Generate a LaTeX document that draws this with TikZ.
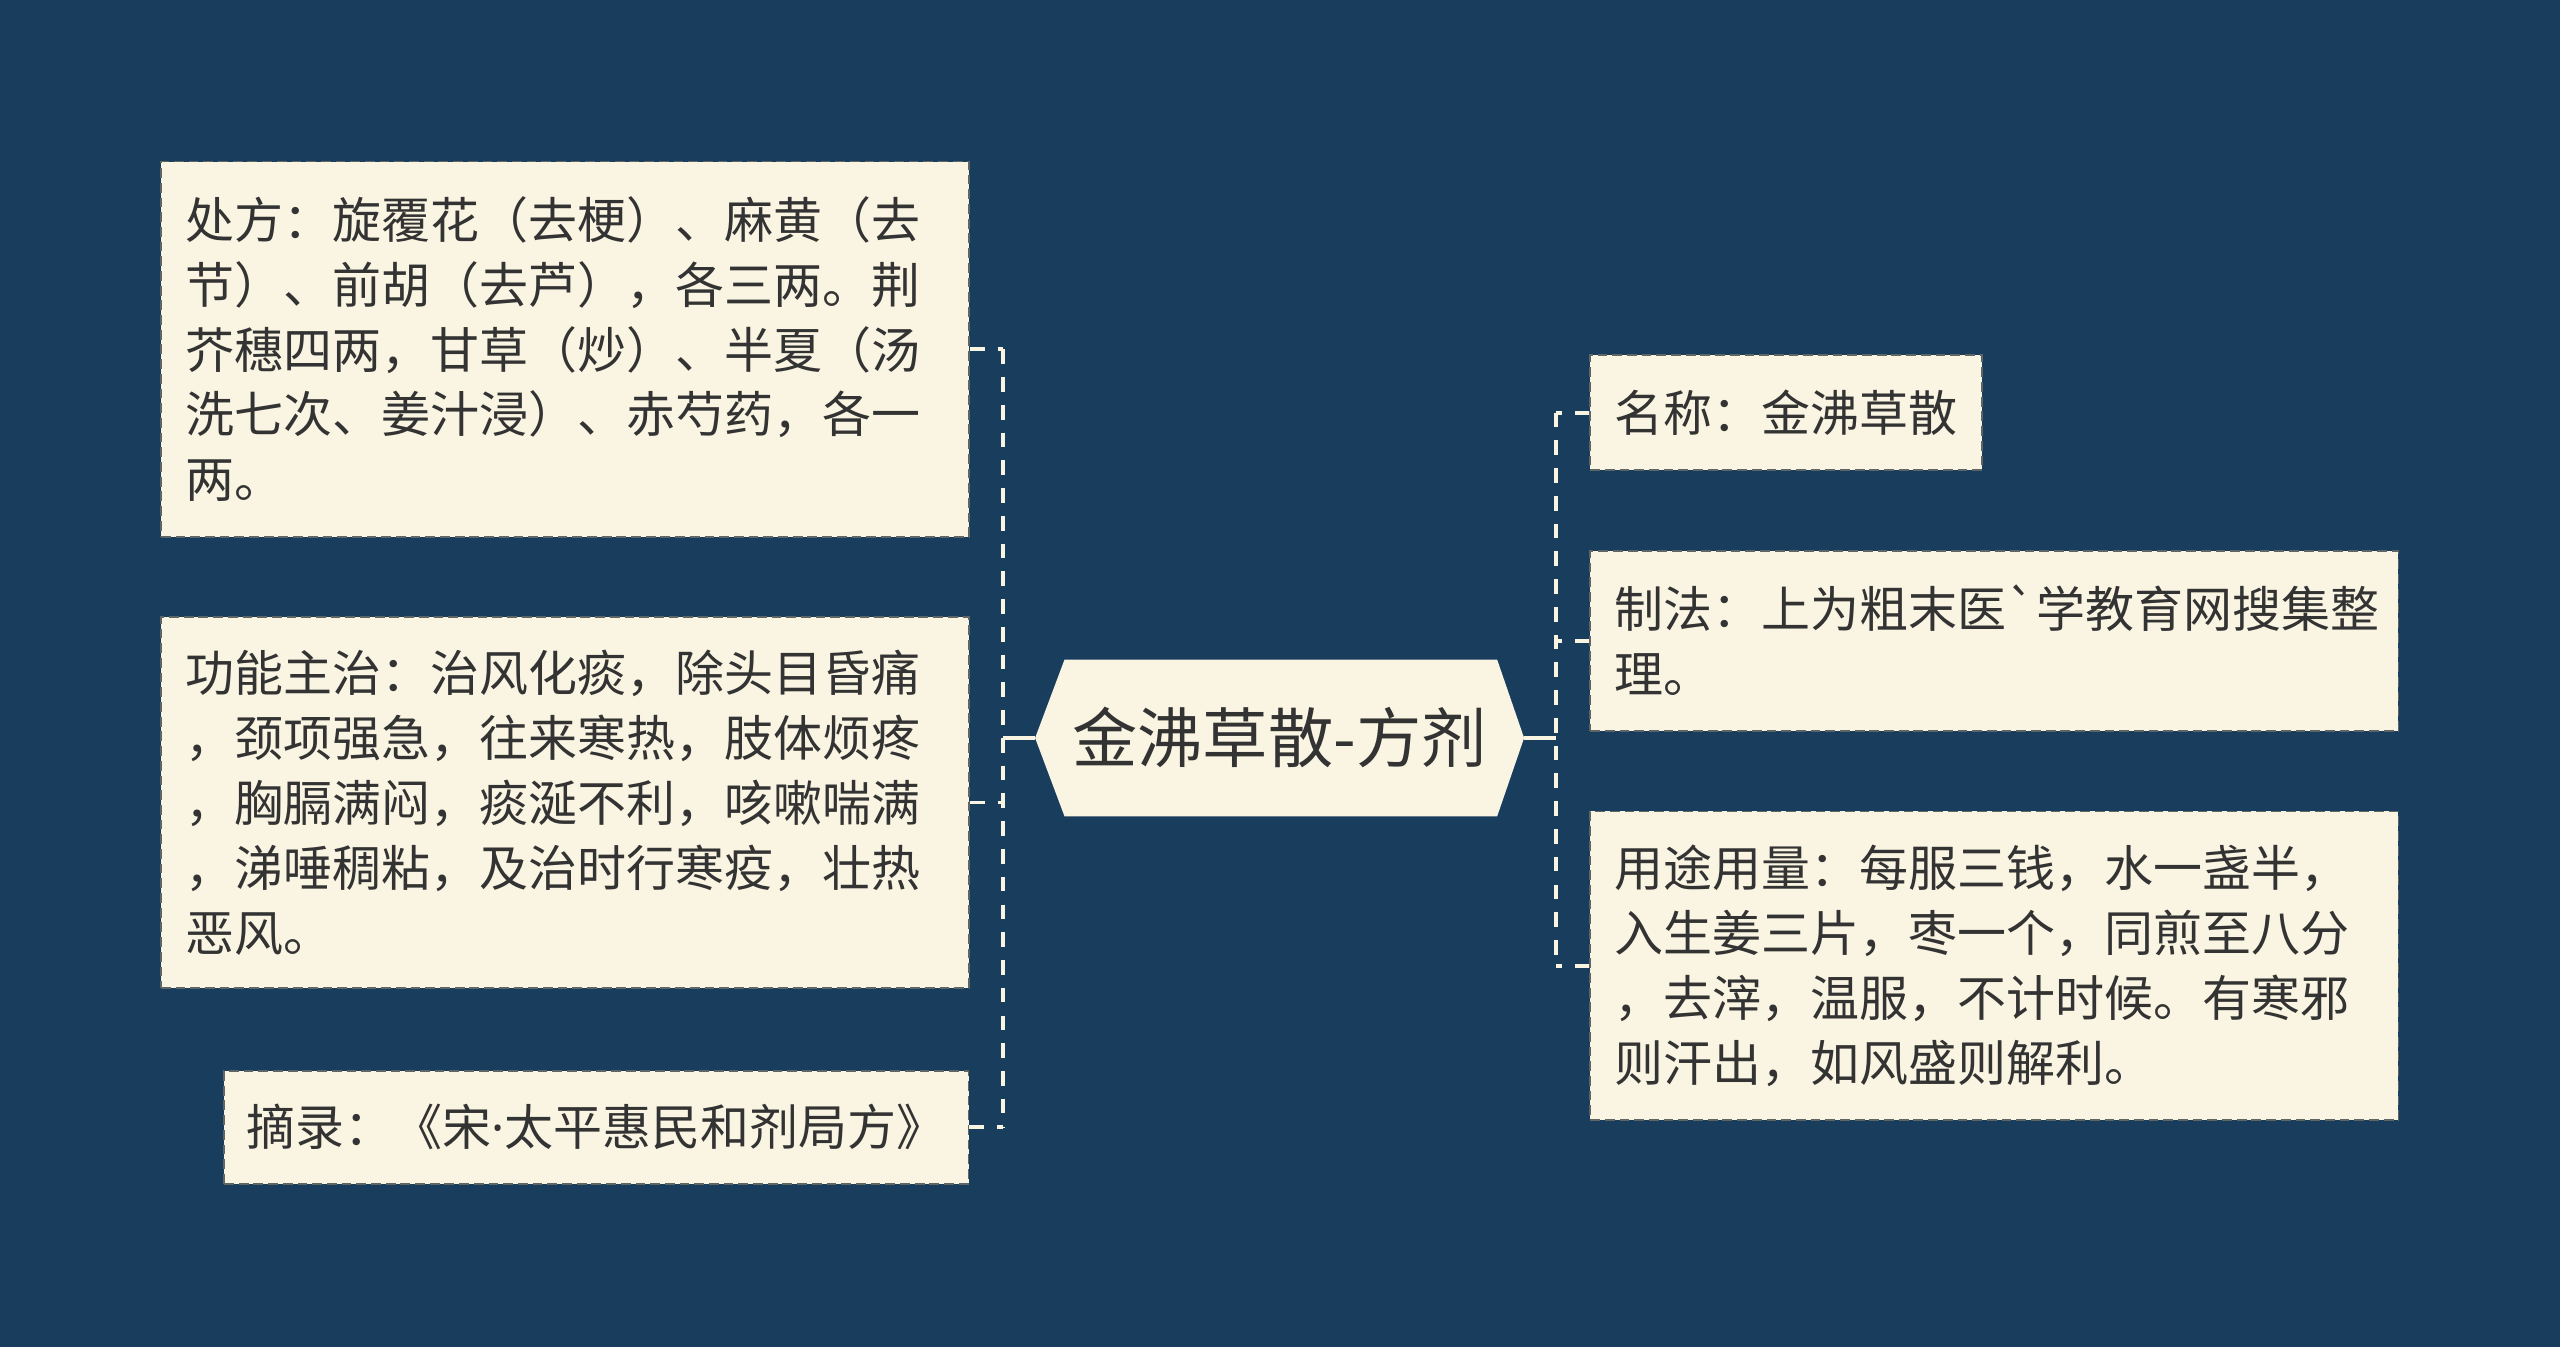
\documentclass[tikz,border=0pt]{standalone}
\usepackage{fontspec}
\setmainfont{Noto Sans CJK SC}[Ligatures=TeXOff]
\newfontfamily\latinfont{Noto Sans}
\definecolor{bg}{RGB}{24,61,93}
\definecolor{cream}{RGB}{250,245,226}
\definecolor{inkc}{RGB}{51,51,51}
\definecolor{rim}{RGB}{95,100,100}
\newcommand\cjkstrut{\rule[-0.12em]{0pt}{1em}}
\begin{document}
\begin{tikzpicture}[x=1pt,y=-1pt,
  leaf/.style={rectangle, fill=cream, draw=rim, line width=1pt,
    dash pattern=on 6pt off 3pt, text=inkc, align=left,
    inner xsep=15pt, inner ysep=0pt,
    font=\fontsize{30}{39.8}\selectfont},
  link/.style={draw=cream, line width=2.4pt, dash pattern=on 9pt off 8pt},
  hub/.style={draw=cream, line width=2.4pt},
  hexfill/.style={fill=cream},
  title/.style={text=inkc, inner sep=0pt, font=\fontsize{40}{48}\selectfont}]
\useasboundingbox (0,0) rectangle (1568,825);
\fill[bg] (0,0) rectangle (1568,825);

% central hexagon
\coordinate (cW) at (634,452);
\coordinate (cE) at (933.5,452);
\fill[hexfill] (cW) -- (652,404) -- (917,404) -- (cE) -- (917,500) -- (652,500) -- cycle;
\node[title] (c) at (783.75,452) {\cjkstrut 金沸草散-方剂};

% junction columns
\coordinate (jl) at (614.5,452);
\coordinate (jr) at (953,452);

% left boxes
\node[leaf, text width=465pt, minimum height=230pt] (b1) at (346.05,214) {%
\cjkstrut 处方：旋覆花（去梗）、麻黄（去\\
\cjkstrut 节）、前胡（去芦），各三两。荆\\
\cjkstrut 芥穗四两，甘草（炒）、半夏（汤\\
\cjkstrut 洗七次、姜汁浸）、赤芍药，各一\\
\cjkstrut 两。};
\node[leaf, text width=465pt, minimum height=227pt] (b2) at (346.05,491.5) {%
\cjkstrut 功能主治：治风化痰，除头目昏痛\\
\cjkstrut ，颈项强急，往来寒热，肢体烦疼\\
\cjkstrut ，胸膈满闷，痰涎不利，咳嗽喘满\\
\cjkstrut ，涕唾稠粘，及治时行寒疫，壮热\\
\cjkstrut 恶风。};
\node[leaf, text width=428pt, inner xsep=14pt, minimum height=69pt] (b3) at (365.25,690.5) {%
\cjkstrut 摘录：《宋{\latinfont ·}太平惠民和剂局方》};

% right boxes
\node[leaf, text width=210pt, minimum height=70.5pt] (r1) at (1094,252.75) {%
\cjkstrut 名称：金沸草散};
\node[leaf, text width=465pt, minimum height=110pt] (r2) at (1221.5,392.6) {%
\cjkstrut 制法：上为粗末医`学教育网搜集整\\
\cjkstrut 理。};
\node[leaf, text width=465pt, minimum height=189pt] (r3) at (1221.5,591.5) {%
\cjkstrut 用途用量：每服三钱，水一盏半，\\
\cjkstrut 入生姜三片，枣一个，同煎至八分\\
\cjkstrut ，去滓，温服，不计时候。有寒邪\\
\cjkstrut 则汗出，如风盛则解利。};

% connectors left
\draw[hub] (cW) -- (cW -| jl);
\draw[link] (b1.east -| jl) -- (b3.east -| jl);
\draw[link] (b1.east) -- (b1.east -| jl);
\draw[link] (b2.east) -- (b2.east -| jl);
\draw[link] (b3.east) -- (b3.east -| jl);

% connectors right
\draw[hub] (cE) -- (cE -| jr);
\draw[link] (r1.west -| jr) -- (r3.west -| jr);
\draw[link] (r1.west) -- (r1.west -| jr);
\draw[link] (r2.west) -- (r2.west -| jr);
\draw[link] (r3.west) -- (r3.west -| jr);
\end{tikzpicture}
\end{document}
